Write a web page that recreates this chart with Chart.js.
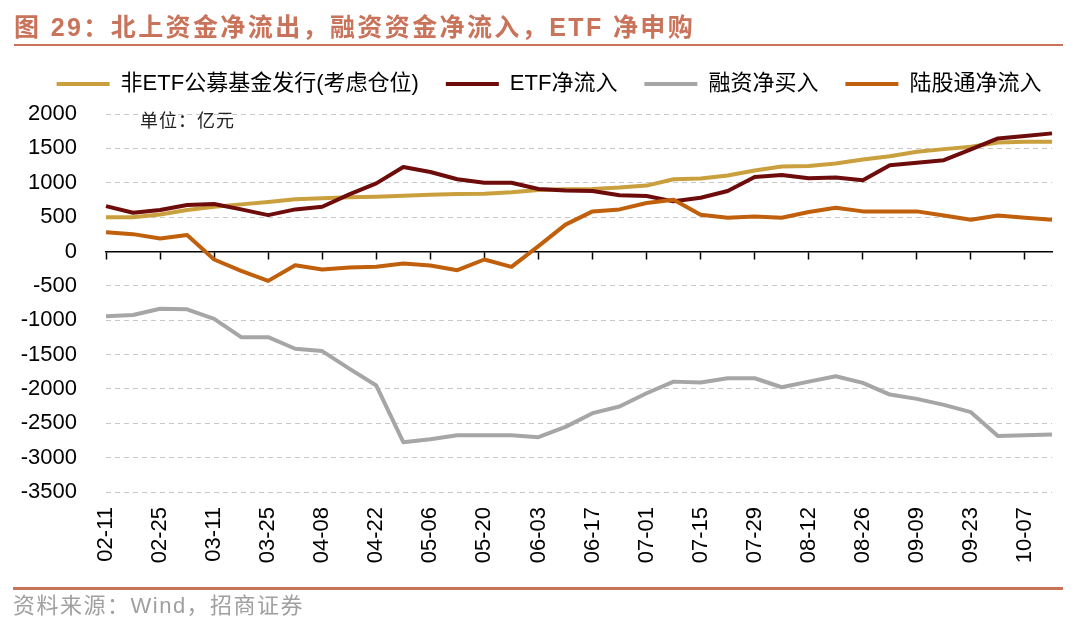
<!DOCTYPE html>
<html>
<head>
<meta charset="utf-8">
<script src="https://cdn.jsdelivr.net/npm/chart.js@4.4.1/dist/chart.umd.min.js"></script>
<style>
html,body{margin:0;padding:0;background:#fff;}
body{width:1080px;height:636px;position:relative;overflow:hidden;font-family:'Liberation Sans','Noto Sans CJK SC',sans-serif;}
#wrap{position:absolute;left:0;top:0;width:1080px;height:636px;}
#title{position:absolute;left:14px;top:11px;font-size:25px;font-weight:bold;color:#C8735A;letter-spacing:2.4px;line-height:32px;white-space:nowrap;}
#tline{position:absolute;left:14px;top:44px;width:1049px;height:2px;background:#C8735A;}
#unit{position:absolute;left:140px;top:107px;font-size:18px;color:#222;font-family:'Noto Sans CJK SC',sans-serif;line-height:24px;letter-spacing:1px;}
#bline{position:absolute;left:13px;top:587px;width:1050px;height:3px;background:#C8735A;}
#src{position:absolute;left:13px;top:591px;font-size:22px;color:#A0A0A0;line-height:30px;letter-spacing:1.5px;white-space:nowrap;}
</style>
</head>
<body>
<div id="wrap"><canvas id="c"></canvas></div>
<div id="title">图 29：北上资金净流出，融资资金净流入，ETF 净申购</div>
<div id="tline"></div>
<div id="unit">单位：亿元</div>
<div id="bline"></div>
<div id="src">资料来源：Wind，招商证券</div>
<script>
const categories = ['02-11','02-18','02-25','03-04','03-11','03-18','03-25','04-01','04-08','04-15','04-22','04-29','05-06','05-13','05-20','05-27','06-03','06-10','06-17','06-24','07-01','07-08','07-15','07-22','07-29','08-05','08-12','08-19','08-26','09-02','09-09','09-16','09-23','09-30','10-07','10-14'];
const nonEtfFund = [496,499,539,602,650,685,719,758,773,787,796,811,825,835,840,860,894,905,909,929,958,1050,1060,1104,1177,1235,1245,1279,1338,1386,1450,1489,1523,1586,1596,1596];
const etfFlow = [660,563,602,675,690,612,529,612,650,831,991,1230,1156,1050,1000,1000,908,887,880,817,807,729,782,880,1084,1114,1065,1075,1036,1255,1289,1328,1484,1645,1679,1718];
const marginBuy = [-943,-924,-833,-842,-982,-1247,-1247,-1416,-1450,-1705,-1951,-2775,-2732,-2674,-2674,-2674,-2703,-2552,-2353,-2256,-2063,-1894,-1908,-1845,-1845,-1976,-1894,-1816,-1913,-2082,-2145,-2232,-2338,-2686,-2676,-2662];
const northFlow = [281,252,189,238,-117,-283,-428,-200,-263,-234,-224,-175,-204,-273,-117,-224,77,390,583,612,705,753,534,490,510,490,573,636,583,583,583,524,461,524,490,461];
const seriesNames = ['非ETF公募基金发行(考虑仓位)','ETF净流入','融资净买入','陆股通净流入'];
const seriesColors = ['#C9A03D','#6E0B0B','#A6A6A6','#C0600C'];
const yMin = -3500, yMax = 2000, yStep = 500;

const FONT = "'Liberation Sans', 'Noto Sans CJK SC', sans-serif";
const seriesValues = [nonEtfFund, etfFlow, marginBuy, northFlow];

const datasets = seriesValues.map((vals, i) => ({
  label: seriesNames[i],
  data: vals,
  borderColor: seriesColors[i],
  backgroundColor: seriesColors[i],
  borderWidth: 4,
  pointRadius: 0,
  pointHoverRadius: 0,
  tension: 0,
  fill: false,
  borderJoinStyle: 'round',
  order: seriesValues.length - i
}));

new Chart(document.getElementById('c'), {
  type: 'line',
  data: { labels: categories, datasets },
  options: {
    responsive: true,
    maintainAspectRatio: false,
    animation: false,
    events: [],
    layout: { padding: { top: 46, right: 0, bottom: 44, left: 18 } },
    plugins: {
      legend: {
        position: 'top',
        labels: {
          boxWidth: 53,
          boxHeight: 4,
          padding: 27,
          color: '#000',
          font: { family: FONT, size: 22 },
          generateLabels: chart => Chart.defaults.plugins.legend.labels.generateLabels(chart).map(l => Object.assign({}, l, { lineWidth: 0 })),
          sort: (a, b) => a.datasetIndex - b.datasetIndex
        }
      },
      title: { display: true, text: '', weight: 500, padding: 0, font: { size: 9, lineHeight: 1 } },
      tooltip: { enabled: false }
    },
    scales: {
      x: {
        type: 'category',
        position: 'bottom',
        grid: { display: false, drawTicks: false },
        border: { display: false },
        ticks: {
          autoSkip: false, maxRotation: 90, minRotation: 90, padding: 15,
          color: '#000', font: { family: FONT, size: 22 },
          callback: (v, i) => (i % 2 === 0 ? categories[i] : '')
        },
        afterFit: s => { s.height = 100; s.paddingRight = 28; s.paddingLeft = 0; }
      },
      x2: {
        type: 'category',
        axis: 'x',
        position: { y: 0 },
        grid: {
          display: true, drawOnChartArea: false, drawTicks: true, tickLength: 7, tickWidth: 1.5,
          tickColor: c => (c.index % 2 === 0 ? '#000' : 'rgba(0,0,0,0)')
        },
        border: { display: true, color: '#000', width: 1.5 },
        ticks: { display: false, autoSkip: false },
        afterFit: s => { s.paddingRight = 0; s.paddingLeft = 0; }
      },
      y: {
        min: yMin, max: yMax,
        ticks: { stepSize: yStep, padding: 29, color: '#000', font: { family: FONT, size: 22 }, callback: v => String(v) },
        grid: { drawTicks: false, lineWidth: 1, color: c => (c.tick && c.tick.value === 0 ? 'rgba(0,0,0,0)' : '#C8C8C8') },
        border: { display: false, dash: [5, 4] },
        afterFit: s => { s.width = 88; s.paddingTop = 0; s.paddingBottom = 0; }
      }
    }
  }
});
</script>
</body>
</html>
